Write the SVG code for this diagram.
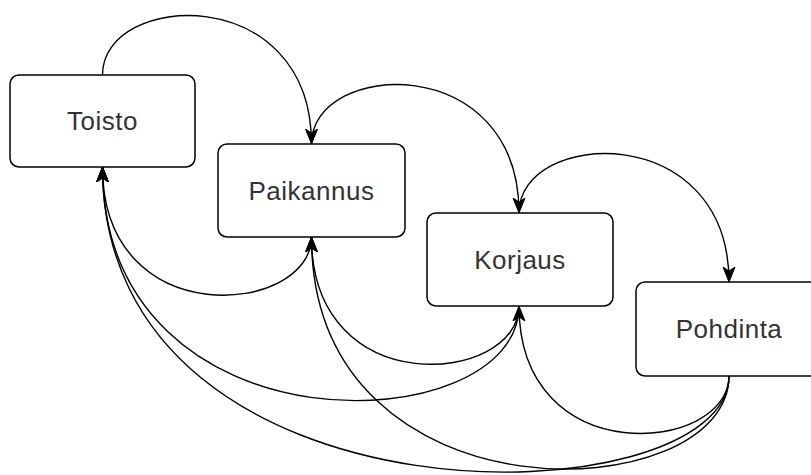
<svg xmlns="http://www.w3.org/2000/svg" width="811" height="475" viewBox="0 0 811 475">
  <style>
    .box { fill: #ffffff; stroke: #000000; stroke-width: 1.5; }
    .lbl { font-family: "Liberation Sans", Arial, Helvetica, sans-serif; font-size: 26px; fill: #333333; text-anchor: middle; letter-spacing: 0.5px; }
    .edge { fill: none; stroke: #000000; stroke-width: 1.4; marker-end: url(#arrow); }
  </style>
  <defs>
    <marker id="arrow" markerUnits="userSpaceOnUse" markerWidth="16" markerHeight="16" viewBox="0 0 16 16" refX="15" refY="8" orient="auto">
      <path d="M0,2 L15,8 L0,14 L4,8 Z" fill="#000000" stroke="#000000" stroke-width="1"/>
    </marker>
  </defs>
  <rect width="811" height="475" fill="#ffffff"/>
  <g id="connectors">
    <path class="edge" d="M102.5,75 C102.5,-9 311.5,-19 311.5,144"/>
    <path class="edge" d="M311.5,144 C311.5,60 519,50 519,213"/>
    <path class="edge" d="M519,213 C519,129 729,119 729,282"/>
    <path class="edge" d="M311.5,237 C311.5,315 102.5,335 102.5,167"/>
    <path class="edge" d="M519,306 C519,384 311.5,404 311.5,237"/>
    <path class="edge" d="M729,376 C729,453 519,473 519,306"/>
    <path class="edge" d="M519,306 C519,442 102.5,460 102.5,167"/>
    <path class="edge" d="M729,376 C729,509 311.5,529 311.5,237"/>
    <path class="edge" d="M729,376 C729,520 102.5,540 102.5,167"/>
  </g>
  <g id="toisto">
    <rect class="box" x="10" y="75" width="185" height="92" rx="9" ry="9"/>
    <text class="lbl" x="102.5" y="130">Toisto</text>
  </g>
  <g id="paikannus">
    <rect class="box" x="218" y="144" width="187" height="93" rx="9" ry="9"/>
    <text class="lbl" x="311.5" y="200">Paikannus</text>
  </g>
  <g id="korjaus">
    <rect class="box" x="427" y="213" width="186" height="93" rx="9" ry="9"/>
    <text class="lbl" x="520" y="269">Korjaus</text>
  </g>
  <g id="pohdinta">
    <rect class="box" x="636" y="282" width="186" height="94" rx="9" ry="9"/>
    <text class="lbl" x="729" y="338">Pohdinta</text>
  </g>
</svg>
